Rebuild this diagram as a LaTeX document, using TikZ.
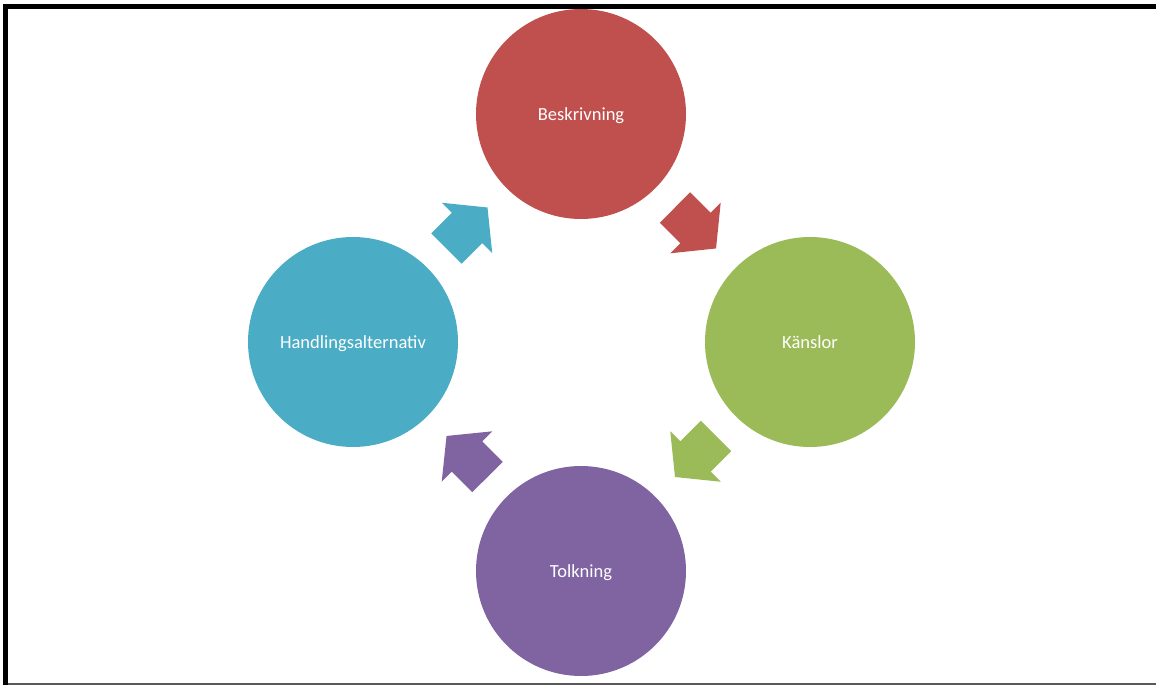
\documentclass[tikz,border=0pt]{standalone}
\usepackage{fontspec}
\setmainfont{Carlito}
\usetikzlibrary{calc}
\definecolor{cred}{HTML}{C0504D}
\definecolor{cgreen}{HTML}{9BBB59}
\definecolor{cpurple}{HTML}{8064A2}
\definecolor{cteal}{HTML}{4BACC6}
\begin{document}
\begin{tikzpicture}[x=1pt,y=-1pt,
  stage/.style={circle, minimum size=210pt, inner sep=0pt, fill=#1,
    text=white, text height=12.5pt, text depth=0pt,
    font=\fontsize{18.5}{22}\selectfont},
  blockarrow/.pic={
    \fill[pic actions] (-29,-21.5) -- (0,-21.5) -- (0,-35.7) -- (29,0)
      -- (0,35.7) -- (0,21.5) -- (-29,21.5) -- cycle;
  }]
  \useasboundingbox (0,0) rectangle (1156,685);
  % page frame
  \draw[line width=5pt] (5.5,685) -- (5.5,6.5) -- (1156,6.5);
  \draw[black!65, line width=1.5pt] (8,684.2) -- (1156,684.2);
  % the four stages of the cycle
  \node[stage=cred]    (besk) at (581,114) {Beskrivning};
  \node[stage=cgreen]  (kans) at (810,342) {Känslor};
  \node[stage=cpurple] (tolk) at (581,571) {Tolkning};
  \node[stage=cteal]   (hand) at (353,342) {Handlingsalternativ};
  % block arrows between consecutive stages
  \tikzset{flow/.style={midway, sloped, allow upside down, fill=#1}}
  \path (besk) -- (kans) pic[flow=cred]    {blockarrow};
  \path (kans) -- (tolk) pic[flow=cgreen]  {blockarrow};
  \path (tolk) -- (hand) pic[flow=cpurple] {blockarrow};
  \path (hand) -- (besk) pic[flow=cteal]   {blockarrow};
\end{tikzpicture}
\end{document}
